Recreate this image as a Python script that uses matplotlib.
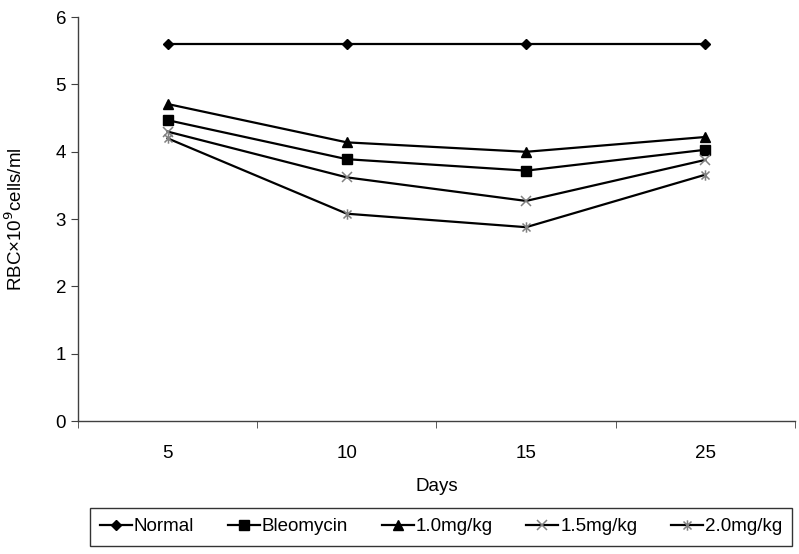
import numpy as np
import matplotlib.pyplot as plt
from matplotlib.path import Path

plt.rcParams['font.family'] = ['Liberation Sans', 'DejaVu Sans']

days = ['5', '10', '15', '25']
normal = [5.60, 5.60, 5.60, 5.60]
bleomycin = [4.47, 3.89, 3.72, 4.03]
dose_10 = [4.71, 4.14, 4.00, 4.22]
dose_15 = [4.30, 3.62, 3.27, 3.88]
dose_20 = [4.20, 3.08, 2.88, 3.66]

# excel-style star: an x with a vertical bar through it
star = Path([(-1, -1), (1, 1), (-1, 1), (1, -1), (0, -1.3), (0, 1.3)],
            [Path.MOVETO, Path.LINETO, Path.MOVETO, Path.LINETO, Path.MOVETO, Path.LINETO])

fig = plt.figure(figsize=(7.99, 5.54), dpi=100)
ax = fig.add_axes([0.0976, 0.240, 0.8974, 0.729])

x = np.arange(len(days))
ax.plot(x, normal, color='black', lw=1.6, marker='D', ms=5.5, mfc='black', mec='black', label='Normal')
ax.plot(x, bleomycin, color='black', lw=1.6, marker='s', ms=7, mfc='black', mec='black', label='Bleomycin')
ax.plot(x, dose_10, color='black', lw=1.6, marker='^', ms=7.5, mfc='black', mec='black', label='1.0mg/kg')
ax.plot(x, dose_15, color='black', lw=1.6, marker='x', ms=7.5, mec='#808080', mew=1.1, label='1.5mg/kg')
ax.plot(x, dose_20, color='black', lw=1.6, marker=star, ms=7.5, mfc='none', mec='#808080', mew=1.1, label='2.0mg/kg')

ax.set_xlim(-0.5, len(days) - 0.5)
ax.set_ylim(0, 6)
ax.set_xticks(x)
ax.set_xticklabels(days)
ax.set_xticks(np.arange(-0.5, len(days), 1.0), minor=True)
ax.tick_params(axis='x', which='major', length=0, pad=17, labelsize=13.5)
ax.tick_params(axis='x', which='minor', length=5, direction='out', color='#404040')
ax.tick_params(axis='y', length=5, direction='out', labelsize=13.5, color='#404040')
ax.set_yticks(range(0, 7))

for s in ['top', 'right']:
    ax.spines[s].set_visible(False)
for s in ['left', 'bottom']:
    ax.spines[s].set_color('#404040')
    ax.spines[s].set_linewidth(1.0)

ax.set_xlabel('Days', fontsize=13.5, labelpad=12)
ax.set_ylabel('RBC×10$^{9}$cells/ml', fontsize=13.5)
ax.yaxis.set_label_coords(-0.072, 0.5)

leg = fig.legend(loc='center', bbox_to_anchor=(0.552, 0.049), ncol=5, fontsize=13.5,
                 frameon=True, fancybox=False, handlelength=1.7, handletextpad=0.1,
                 columnspacing=1.8, borderpad=0.55)
leg.get_frame().set_edgecolor('black')
leg.get_frame().set_linewidth(1.0)

fig.savefig('out.png', dpi=100)
